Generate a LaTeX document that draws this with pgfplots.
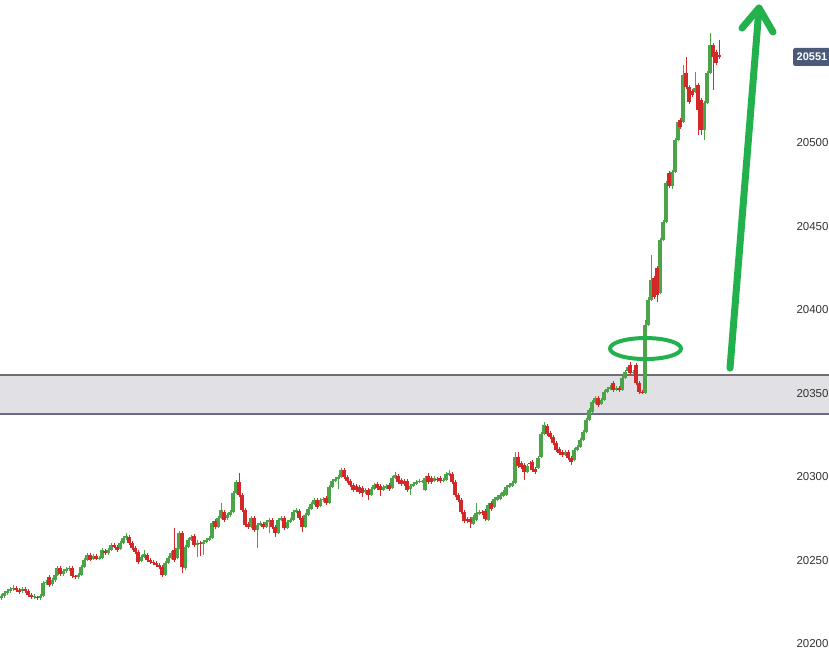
\documentclass[border=0pt]{standalone}
\usepackage{pgfplots}
\pgfplotsset{compat=1.18}
\usepackage{pgfplotstable}
\usepackage{fontspec}
\setmainfont{Liberation Sans}

\definecolor{cup}{HTML}{4CA448}
\definecolor{cdn}{HTML}{D22828}
\definecolor{zone}{HTML}{E1E1E5}
\definecolor{zoneline}{HTML}{6E6E74}
\definecolor{zoneline2}{HTML}{6C6A84}
\definecolor{anno}{HTML}{22B14C}
\definecolor{tag}{HTML}{4A5A78}
\definecolor{lbl}{HTML}{333333}

% rising candles: x open high low close
\pgfplotstableread{
x o h l c
1 20227.5 20229.9 20226.3 20228.7
4 20228.7 20231.7 20227.5 20230.5
7 20230.5 20232.7 20229.5 20231.7
10 20231.7 20234.0 20230.7 20232.9
13 20232.9 20235.3 20232.0 20233.5
22 20231.7 20234.0 20230.7 20232.9
34 20228.1 20229.7 20227.0 20228.7
40 20227.5 20229.7 20226.5 20228.7
43 20228.7 20237.5 20228.0 20236.5
46 20236.5 20238.3 20235.5 20237.1
52 20235.9 20239.3 20235.0 20238.3
55 20238.3 20242.3 20237.3 20241.3
57 20241.3 20246.5 20240.5 20245.5
63 20241.9 20244.9 20241.0 20243.7
66 20243.7 20246.1 20242.7 20244.9
69 20244.9 20246.5 20244.0 20245.5
78 20240.1 20242.3 20239.2 20241.3
81 20241.3 20247.1 20240.5 20246.1
84 20246.1 20251.3 20245.5 20250.3
87 20250.3 20254.5 20249.5 20253.3
93 20250.9 20253.9 20250.0 20252.7
99 20250.9 20252.7 20250.0 20251.5
102 20251.5 20257.3 20250.7 20256.3
108 20254.5 20257.5 20253.5 20256.3
111 20256.3 20260.3 20255.5 20259.3
120 20256.9 20261.5 20256.0 20260.5
123 20260.5 20264.4 20259.8 20263.4
126 20263.4 20266.4 20262.5 20264.6
141 20249.7 20253.0 20248.8 20252.1
144 20252.1 20256.3 20251.2 20253.9
165 20241.3 20249.5 20240.5 20248.5
168 20248.5 20252.5 20247.7 20251.5
171 20251.5 20255.5 20250.7 20254.5
177 20251.5 20258.5 20250.7 20257.5
179 20257.5 20267.4 20256.7 20266.4
185 20245.5 20259.1 20244.5 20258.1
188 20258.1 20263.2 20257.3 20262.2
191 20262.2 20265.0 20261.4 20264.0
197 20259.3 20262.2 20252.1 20260.5
203 20259.8 20262.0 20253.3 20261.0
206 20261.0 20263.2 20260.2 20262.2
209 20262.2 20264.4 20261.4 20263.4
212 20263.4 20273.4 20262.6 20272.4
218 20270.0 20276.4 20269.2 20275.4
221 20275.4 20284.4 20274.6 20280.2
227 20275.4 20278.2 20274.5 20277.2
230 20277.2 20280.0 20276.3 20279.0
233 20279.0 20291.4 20278.2 20290.4
236 20290.4 20298.0 20289.6 20297.0
251 20270.0 20276.4 20269.2 20275.4
257 20268.2 20272.2 20257.5 20271.2
260 20271.2 20273.4 20270.4 20272.4
266 20270.0 20274.0 20269.2 20273.0
269 20273.0 20275.2 20266.4 20274.2
278 20266.4 20275.2 20265.6 20274.2
281 20274.2 20276.4 20273.4 20275.4
287 20269.4 20274.0 20268.6 20273.0
290 20273.0 20275.2 20272.2 20274.2
293 20274.2 20280.0 20273.4 20279.0
296 20279.0 20281.2 20278.2 20280.2
305 20270.0 20278.2 20269.2 20277.2
308 20277.2 20281.8 20276.4 20280.8
311 20280.8 20284.8 20280.0 20283.8
314 20283.8 20287.2 20283.0 20286.2
320 20282.6 20287.2 20281.8 20286.2
323 20286.2 20287.8 20285.2 20286.8
329 20284.4 20295.0 20283.6 20294.0
332 20294.0 20298.6 20293.2 20297.6
335 20297.6 20299.8 20296.8 20298.8
338 20298.8 20301.0 20292.8 20300.0
341 20300.0 20305.4 20299.2 20304.2
365 20291.0 20293.2 20290.0 20292.2
371 20289.2 20293.8 20288.4 20292.8
374 20292.8 20296.2 20292.0 20295.2
383 20292.2 20295.0 20291.4 20294.0
386 20293.4 20295.6 20292.6 20294.6
392 20293.4 20300.4 20292.6 20299.4
395 20299.4 20303.0 20298.6 20301.2
410 20292.8 20295.6 20289.0 20294.6
413 20294.6 20296.8 20293.8 20295.8
416 20295.8 20298.0 20295.0 20297.0
419 20297.0 20298.6 20296.2 20297.6
422 20297.2 20298.4 20296.6 20297.6
425 20292.2 20300.4 20291.4 20299.4
434 20297.6 20300.4 20296.8 20299.4
443 20297.6 20299.2 20296.8 20298.2
446 20298.2 20302.8 20297.4 20301.8
449 20301.2 20304.2 20300.4 20302.4
473 20271.8 20277.0 20271.0 20276.0
476 20274.2 20284.4 20273.4 20278.4
479 20277.8 20280.0 20277.0 20279.0
488 20274.2 20284.2 20273.4 20283.2
494 20282.0 20287.8 20281.2 20286.8
497 20286.2 20289.0 20285.4 20288.0
500 20286.8 20290.2 20286.0 20289.2
503 20288.6 20292.0 20287.8 20291.0
506 20289.2 20295.0 20288.4 20294.0
509 20294.0 20296.2 20293.2 20295.2
512 20294.6 20297.4 20293.8 20296.4
515 20296.4 20315.0 20295.6 20312.0
527 20303.0 20307.6 20302.2 20306.6
538 20305.4 20312.4 20304.6 20311.4
541 20312.0 20326.7 20311.2 20325.7
544 20325.7 20332.9 20324.9 20331.1
565 20313.1 20316.0 20312.3 20315.0
574 20310.2 20317.1 20309.4 20316.1
577 20316.1 20318.9 20315.3 20317.9
580 20317.9 20323.1 20317.1 20322.1
583 20322.1 20327.9 20321.3 20326.9
586 20326.9 20335.1 20326.1 20334.1
589 20334.1 20341.1 20333.3 20340.1
592 20338.9 20345.9 20338.1 20344.9
595 20344.3 20348.3 20343.5 20347.3
601 20343.7 20347.1 20342.9 20346.1
604 20346.1 20351.9 20345.3 20350.9
607 20350.9 20353.7 20350.1 20352.7
610 20352.7 20354.9 20351.9 20353.9
616 20352.1 20354.3 20351.3 20353.3
622 20352.1 20360.3 20351.3 20359.3
625 20359.3 20363.8 20358.5 20362.8
628 20363.4 20366.8 20362.6 20365.8
633 20362.2 20363.8 20361.2 20362.8
645 20350.3 20394.0 20349.7 20391.0
648 20391.0 20407.8 20390.2 20406.0
651 20406.0 20432.9 20405.2 20417.9
660 20410.2 20442.9 20409.4 20441.9
663 20441.9 20453.7 20441.1 20452.7
666 20452.7 20477.0 20451.9 20476.0
672 20474.2 20483.6 20472.4 20482.6
675 20482.6 20502.8 20481.8 20501.8
678 20501.8 20513.6 20501.0 20512.6
683 20512.6 20546.7 20511.8 20540.7
695 20530.5 20542.5 20529.7 20532.9
704 20507.8 20524.9 20501.8 20523.9
707 20523.9 20542.9 20523.1 20541.9
710 20541.9 20565.8 20541.1 20558.7
}\up

% falling candles: x open high low close
\pgfplotstableread{
x o h l c
16 20233.5 20234.5 20231.3 20232.3
19 20232.3 20233.3 20230.0 20231.1
25 20232.9 20234.0 20230.7 20231.7
28 20231.7 20232.7 20228.3 20229.3
31 20229.3 20230.3 20227.0 20228.1
37 20228.1 20229.0 20226.3 20227.5
49 20240.1 20241.3 20234.3 20235.3
60 20245.5 20247.0 20240.7 20241.9
72 20245.5 20246.5 20239.7 20240.7
75 20240.7 20241.3 20239.0 20240.1
90 20253.3 20254.3 20249.5 20250.3
96 20252.7 20253.7 20250.0 20250.9
105 20255.7 20256.9 20253.5 20254.5
114 20259.3 20260.3 20257.2 20258.1
117 20258.1 20259.1 20255.3 20256.3
129 20264.0 20265.0 20259.5 20260.5
132 20260.5 20261.5 20256.5 20257.5
135 20257.5 20258.5 20254.0 20255.1
138 20255.1 20256.0 20248.1 20249.1
147 20253.3 20254.3 20249.3 20250.3
150 20250.3 20251.3 20248.1 20249.1
153 20249.1 20250.1 20247.5 20248.5
156 20248.5 20249.5 20246.3 20247.3
159 20247.3 20248.3 20245.1 20246.1
162 20246.1 20247.1 20240.3 20241.3
174 20256.3 20269.4 20249.3 20250.3
182 20266.4 20267.4 20242.5 20246.1
194 20264.6 20265.6 20258.3 20259.3
200 20260.5 20261.5 20252.7 20259.8
215 20273.6 20274.6 20269.0 20270.0
224 20279.0 20280.0 20273.2 20274.2
239 20297.0 20302.4 20288.2 20289.2
242 20289.2 20290.2 20279.2 20280.2
245 20280.2 20281.2 20270.2 20271.2
248 20271.8 20272.8 20269.0 20270.0
254 20275.4 20276.4 20267.2 20268.2
263 20271.8 20272.8 20269.0 20270.0
272 20274.2 20275.2 20269.0 20270.0
275 20270.0 20271.0 20264.0 20266.4
284 20275.4 20276.4 20268.4 20269.4
299 20279.6 20280.6 20274.4 20275.4
302 20275.4 20276.4 20267.0 20270.0
317 20286.2 20287.2 20281.0 20282.0
326 20287.4 20288.4 20283.4 20284.4
344 20304.2 20305.2 20299.0 20300.0
347 20300.0 20301.0 20296.6 20297.6
350 20297.6 20298.6 20294.2 20295.2
353 20295.2 20296.2 20291.2 20292.2
356 20294.6 20295.6 20291.2 20292.2
359 20294.0 20295.0 20290.0 20291.0
362 20293.4 20294.4 20288.0 20290.4
368 20292.2 20293.2 20286.2 20289.2
377 20295.8 20296.8 20292.4 20293.4
380 20294.6 20295.6 20288.6 20292.2
389 20295.2 20296.2 20291.8 20292.8
398 20300.6 20301.6 20296.0 20297.0
401 20298.2 20299.2 20294.8 20295.8
404 20297.6 20298.6 20294.8 20295.8
407 20297.6 20298.6 20291.2 20292.2
428 20300.6 20302.4 20296.0 20297.0
431 20299.4 20300.4 20296.0 20297.0
437 20298.8 20299.8 20297.2 20298.2
440 20299.4 20300.4 20296.6 20297.6
452 20301.8 20302.8 20296.0 20297.0
455 20297.0 20298.0 20288.2 20289.2
458 20289.2 20290.2 20285.2 20286.2
461 20286.2 20287.2 20278.0 20279.0
464 20279.0 20280.0 20272.6 20273.6
467 20274.8 20275.8 20272.6 20273.6
470 20274.8 20275.8 20269.4 20273.0
482 20279.0 20280.0 20277.4 20278.4
485 20279.6 20280.6 20273.8 20274.8
491 20284.4 20285.4 20279.8 20280.8
518 20312.0 20315.0 20305.6 20306.6
521 20308.4 20309.4 20305.0 20306.0
524 20307.2 20308.2 20298.2 20303.0
530 20308.4 20309.4 20307.0 20307.8
532 20309.0 20310.0 20303.2 20304.2
535 20304.8 20305.8 20302.0 20303.0
547 20330.5 20331.5 20324.7 20325.7
550 20326.3 20327.3 20322.9 20323.9
553 20323.9 20324.9 20319.3 20320.3
556 20320.3 20321.3 20315.1 20316.1
559 20316.7 20317.7 20313.3 20314.3
562 20315.0 20316.0 20312.1 20313.1
568 20315.0 20316.0 20310.4 20311.4
571 20311.4 20312.4 20307.2 20309.0
598 20347.3 20348.3 20342.1 20343.1
613 20356.3 20357.3 20351.1 20352.1
619 20353.3 20354.3 20351.1 20352.1
630 20367.0 20368.8 20361.2 20362.2
636 20367.0 20368.0 20355.3 20356.3
639 20356.3 20357.3 20349.9 20350.9
642 20350.9 20351.9 20349.7 20350.3
654 20419.1 20420.1 20406.8 20407.8
657 20425.1 20426.1 20404.8 20409.0
669 20482.0 20483.0 20473.2 20474.2
680 20513.7 20514.7 20508.5 20509.5
686 20541.9 20551.5 20532.5 20533.5
689 20533.5 20534.5 20523.5 20524.5
692 20531.1 20532.1 20527.7 20528.7
698 20534.7 20535.7 20504.8 20519.7
701 20525.7 20526.7 20504.8 20507.8
713 20558.7 20559.7 20531.7 20551.5
716 20554.5 20555.5 20546.9 20547.9
719 20552.7 20561.6 20550.5 20551.5
}\down

\begin{document}
\begin{tikzpicture}
\begin{axis}[
  scale only axis, width=790pt, height=649pt,
  xmin=0, xmax=790, ymin=20197, ymax=20585.6,
  clip=false, axis on top,
  axis line style={draw=none},
  major tick length=0pt,
  xtick=\empty,
  ytick={20200,20250,20300,20350,20400,20450,20500},
  yticklabel pos=right,
  scaled y ticks=false,
  yticklabel style={font=\fontsize{11.5}{13}\selectfont, text=lbl, xshift=3pt,
    /pgf/number format/fixed, /pgf/number format/precision=0},
  /pgf/number format/1000 sep={},
  /pgf/number format/assume math mode=true,
]
% support zone
\fill[zone] (axis cs:0,20337.7) rectangle (axis cs:829,20361.1);
\draw[zoneline, line width=2pt] (axis cs:0,20361.1) -- (axis cs:829,20361.1);
\draw[zoneline2, line width=2pt] (axis cs:0,20337.7) -- (axis cs:829,20337.7);

% wicks
\addplot[cup, mark=none, -, quiver={u=0, v=\thisrow{h}-\thisrow{l},
    every arrow/.style={line width=1pt}}]
  table[x=x, y=l] {\up};
\addplot[cdn, mark=none, -, quiver={u=0, v=\thisrow{h}-\thisrow{l},
    every arrow/.style={line width=1pt}}]
  table[x=x, y=l] {\down};
% bodies
\addplot[cup, mark=none, -, quiver={u=0, v=\thisrow{c}-\thisrow{o},
    every arrow/.style={line width=3.2pt}}]
  table[x=x, y=o] {\up};
\addplot[cdn, mark=none, -, quiver={u=0, v=\thisrow{o}-\thisrow{c},
    every arrow/.style={line width=3.2pt}}]
  table[x=x, y=c] {\down};

% breakout ring and arrow
\draw[anno, line width=4pt] (axis cs:645.5,20376.9) ellipse [x radius=35.5pt, y radius=10.5pt];
\draw[anno, line width=7pt, line cap=round, line join=round]
  (axis cs:742,20568.8) -- (axis cs:759,20580.8) -- (axis cs:773,20566.4);
\draw[anno, line width=7pt, line cap=round]
  (axis cs:759,20580.8) -- (axis cs:730,20365.2);

% last price tag
\node[fill=tag, text=white, font=\bfseries\fontsize{11}{13}\selectfont, anchor=west,
  rounded corners=2pt, inner xsep=3.5pt, inner ysep=2pt, minimum height=18pt]
  at (axis cs:793,20551.5) {20551};
\end{axis}
\pgfresetboundingbox
\path[use as bounding box] (0,0) rectangle (829pt,649pt);
\end{tikzpicture}
\end{document}
